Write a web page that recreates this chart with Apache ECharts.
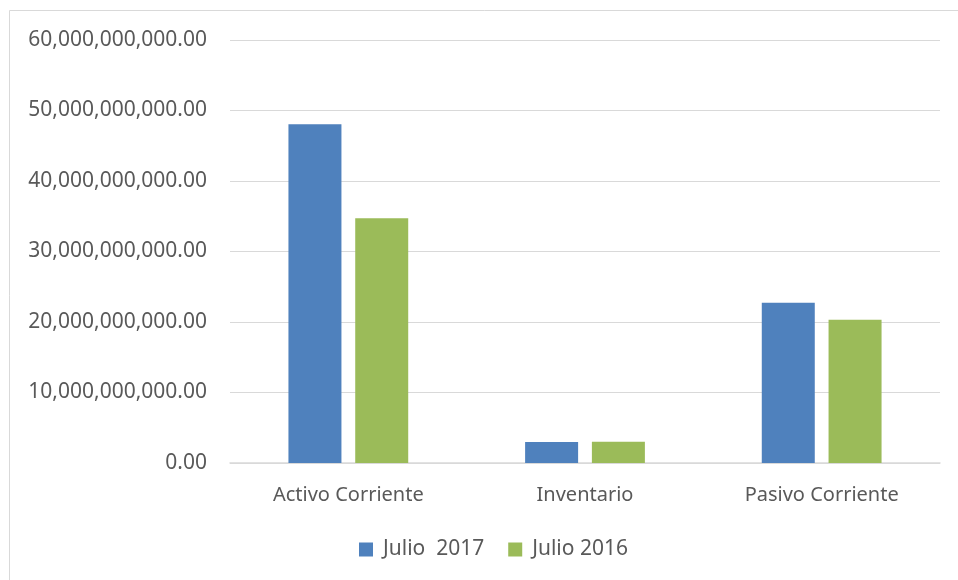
<!DOCTYPE html>
<html lang="es">
<head>
    <meta charset="UTF-8">
    <title>Activo / Inventario / Pasivo</title>
    <script src="https://cdn.jsdelivr.net/npm/echarts@6/dist/echarts.min.js"></script>
    <style>
        html, body { margin: 0; padding: 0; background: #fff; }
    </style>
</head>
<body>
    <div id="main" style="width: 958px;height:580px;"></div>
    <script type="text/javascript">
        // datos
        var categories = ['Activo Corriente', 'Inventario', 'Pasivo Corriente'];
        var julio2017 = [48050000000, 2980000000, 22720000000];
        var julio2016 = [34730000000, 3030000000, 20330000000];
        var seriesNames = ['Julio  2017', 'Julio 2016'];

        var myChart = echarts.init(document.getElementById('main'));

        function fmt(v) {
            return v.toLocaleString('en-US', { minimumFractionDigits: 2, maximumFractionDigits: 2 });
        }

        var font = '"Noto Sans", sans-serif';

        var option = {
            backgroundColor: '#fff',
            animation: false,
            graphic: [{
                type: 'rect',
                shape: { x: 9.5, y: 10.5, width: 1000, height: 700 },
                style: { fill: 'none', stroke: '#d9d9d9', lineWidth: 1 },
                silent: true
            }],
            grid: {
                left: 230,
                right: 18,
                top: 40,
                bottom: 117
            },
            legend: {
                data: seriesNames,
                bottom: 15,
                left: 354,
                itemWidth: 14,
                itemHeight: 14,
                itemGap: 24,
                icon: 'rect',
                textStyle: {
                    color: '#595959',
                    fontSize: 21,
                    fontFamily: font,
                    padding: [0, 0, 0, 5]
                }
            },
            xAxis: {
                type: 'category',
                data: categories,
                axisLine: { lineStyle: { color: '#d9d9d9', width: 1.5 } },
                axisTick: { show: false },
                axisLabel: {
                    color: '#595959',
                    fontSize: 20,
                    fontFamily: font,
                    margin: 22
                }
            },
            yAxis: {
                type: 'value',
                min: 0,
                max: 60000000000,
                interval: 10000000000,
                axisLine: { show: false },
                axisTick: { show: false },
                splitLine: { lineStyle: { color: '#d9d9d9', width: 1 } },
                axisLabel: {
                    color: '#595959',
                    fontSize: 21,
                    fontFamily: font,
                    margin: 23,
                    formatter: fmt
                }
            },
            series: [
                {
                    name: seriesNames[0],
                    type: 'bar',
                    data: julio2017,
                    barWidth: 53,
                    barGap: '26%',
                    itemStyle: { color: '#4f81bd' }
                },
                {
                    name: seriesNames[1],
                    type: 'bar',
                    data: julio2016,
                    barWidth: 53,
                    itemStyle: { color: '#9bbb59' }
                }
            ]
        };

        myChart.setOption(option);
    </script>
</body>
</html>
